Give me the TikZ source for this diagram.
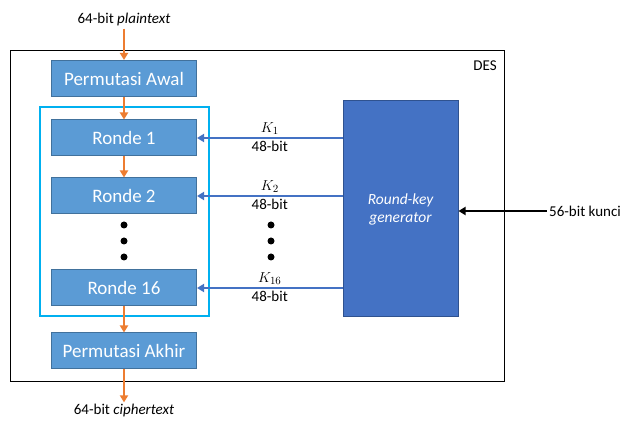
\documentclass[tikz,border=0pt]{standalone}
\usepackage{fontspec}
\setmainfont{Carlito}
\usetikzlibrary{arrows.meta}

\definecolor{boxblue}{HTML}{5B9BD5}
\definecolor{boxedge}{HTML}{41719C}
\definecolor{genblue}{HTML}{4472C4}
\definecolor{genedge}{HTML}{2F528F}
\definecolor{floworange}{HTML}{ED7D31}
\definecolor{framecyan}{HTML}{00B0F0}

\begin{document}
\begin{tikzpicture}[x=1pt,y=-1pt,
  box/.style={rectangle,draw=boxedge,fill=boxblue,text=white,line width=1pt,
    minimum width=145pt,minimum height=36pt,inner sep=0pt,font=\fontsize{19}{22}\selectfont},
  gen/.style={rectangle,draw=genedge,fill=genblue,text=white,line width=1pt,align=center,
    minimum width=115pt,minimum height=216pt,font=\fontsize{15.5}{18}\selectfont\itshape},
  lbl/.style={font=\fontsize{15}{17}\selectfont,inner sep=2pt},
  flow/.style={draw=floworange,line width=2pt,-{Triangle[length=7pt,width=8pt]}},
  keyarr/.style={draw=genblue,line width=2pt,-{Triangle[length=7pt,width=8pt]}},
  dot/.style={circle,fill=black,minimum size=7pt,inner sep=0pt}]
\useasboundingbox (0,0) rectangle (627,430);

\node at (257,216.5) [draw,line width=1pt,minimum width=494pt,minimum height=331pt] (des) {};
\node at (485,66) [lbl] (deslbl) {DES};

\node at (124.5,211.5) [draw=framecyan,line width=1.5pt,minimum width=169pt,minimum height=209pt] (rounds) {};

\node at (124,78.5) [box] (pa) {Permutasi Awal};
\node at (124,138) [box] (r1) {Ronde 1};
\node at (124,196) [box] (r2) {Ronde 2};
\node at (124,288) [box] (r16) {Ronde 16};
\node at (124,351) [box] (pk) {Permutasi Akhir};
\node at (400.5,209) [gen] (g) {Round-key\\generator};

\node at (124,20) [lbl] (pt) {64-bit \textit{plaintext}};
\node at (124,411) [lbl] (ct) {64-bit \textit{ciphertext}};
\node at (585,211) [lbl] (kunci) {56-bit kunci};

\foreach \y [count=\i] in {225,241,257} {
  \node at (124,\y) [dot] (ld\i) {};
  \node at (271,\y) [dot] (rd\i) {};
}

\draw[flow] (pt) -- (pa);
\draw[flow] (pa) -- (r1);
\draw[flow] (r1) -- (r2);
\draw[flow] (r16) -- (pk);
\draw[flow] (pk) -- (ct);

\draw[keyarr] (g.west |- r1) -- (r1.east)
  node[midway,above,lbl] {$K_1$} node[midway,below,lbl] {48-bit};
\draw[keyarr] (g.west |- r2) -- (r2.east)
  node[midway,above,lbl] {$K_2$} node[midway,below,lbl] {48-bit};
\draw[keyarr] (g.west |- r16) -- (r16.east)
  node[midway,above,lbl] {$K_{16}$} node[midway,below,lbl] {48-bit};

\draw[line width=2pt,-{Triangle[length=7pt,width=8pt]}] (kunci.west) -- (kunci.west -| g.east);
\end{tikzpicture}
\end{document}
